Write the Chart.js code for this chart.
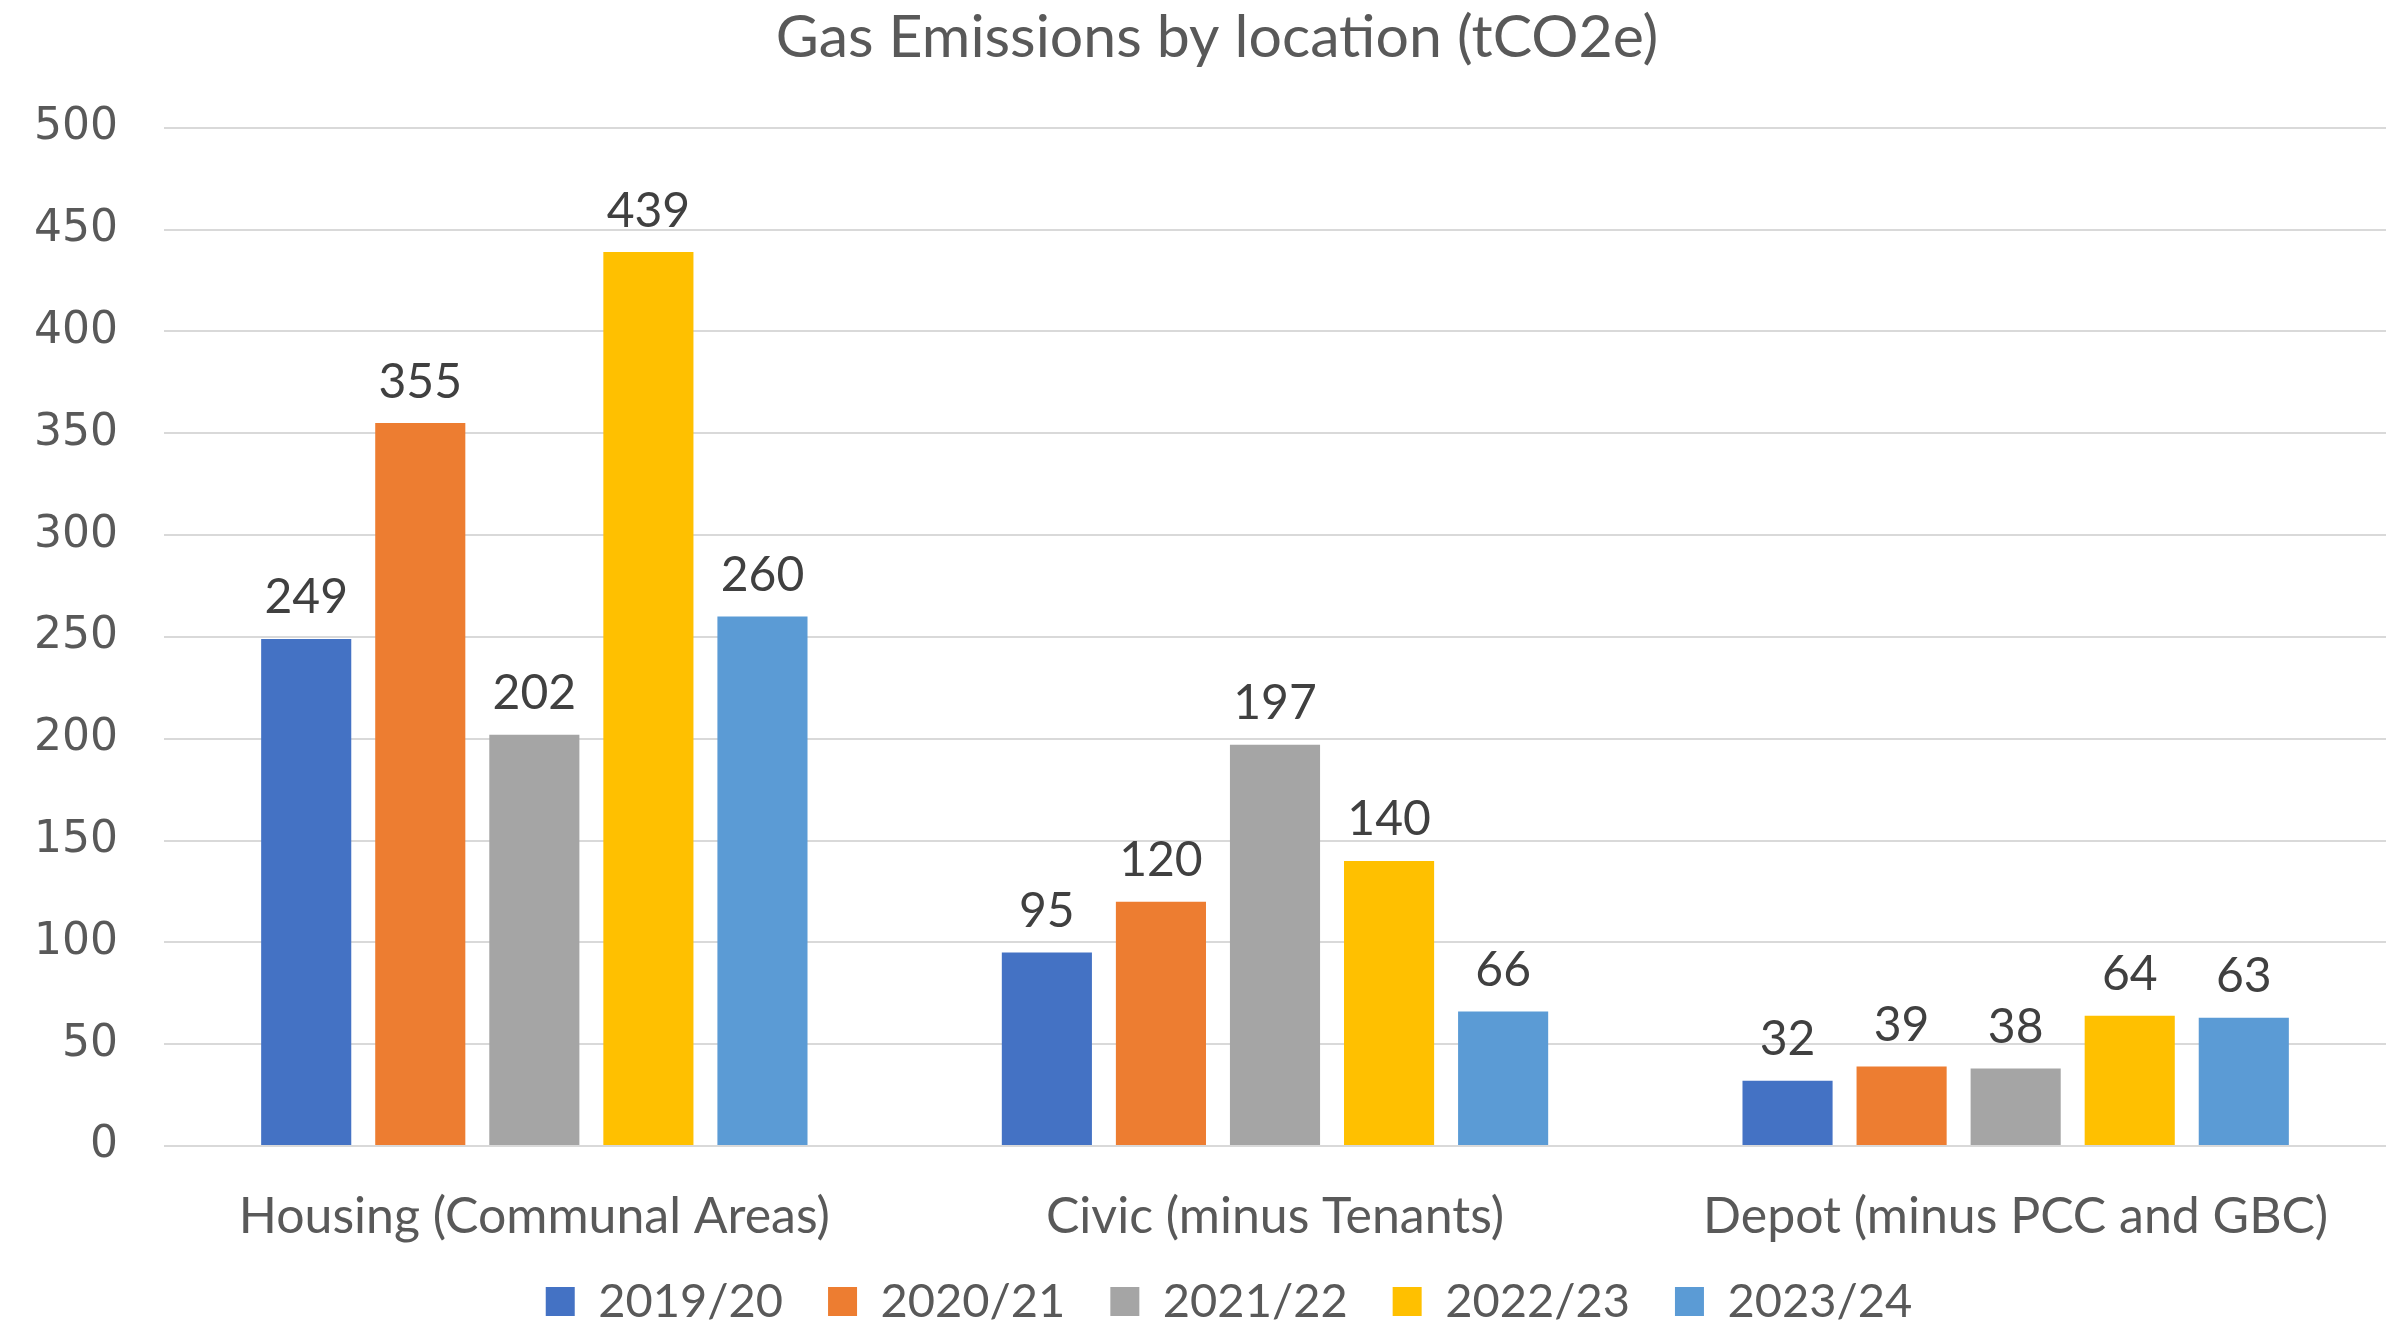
<!DOCTYPE html>
<html>
<head>
<meta charset="utf-8">
<script src="https://cdn.jsdelivr.net/npm/chart.js@4/dist/chart.umd.min.js"></script>
<style>
  html, body { margin: 0; padding: 0; background: #fff; }
  #wrap { width: 2386px; height: 1324px; }
</style>
</head>
<body>
<div id="wrap"><canvas id="chartGas"></canvas></div>
<script>
const locations = ['Housing (Communal Areas)', 'Civic (minus Tenants)', 'Depot (minus PCC and GBC)'];
const years = ['2019/20', '2020/21', '2021/22', '2022/23', '2023/24'];
const y2019 = [249, 95, 32];
const y2020 = [355, 120, 39];
const y2021 = [202, 197, 38];
const y2022 = [439, 140, 64];
const y2023 = [260, 66, 63];
const yTicks = [0, 50, 100, 150, 200, 250, 300, 350, 400, 450, 500];

const colours = ['#4472C4', '#ED7D31', '#A5A5A5', '#FFC000', '#5B9BD5'];
const series = [y2019, y2020, y2021, y2022, y2023];

// labels above bars, drawn from the bar elements
const barLabels = {
  id: 'barLabels',
  afterDatasetsDraw(chart) {
    const c = chart.ctx;
    c.save();
    c.font = '48px Lato';
    c.fillStyle = '#404040';
    c.textAlign = 'center';
    c.textBaseline = 'bottom';
    chart.data.datasets.forEach((ds, i) => {
      chart.getDatasetMeta(i).data.forEach((bar, j) => {
        c.fillText(ds.data[j], bar.x, bar.y - 17);
      });
    });
    c.restore();
  }
};

// nudge title and legend a bit right, like the original,
// and stop the x labels being clipped by the short axis box
const layoutTweaks = {
  id: 'layoutTweaks',
  afterLayout(chart) {
    chart.legend.left += 36;
    chart.legend.right += 36;
    chart.titleBlock.left += 24;
    chart.titleBlock.right += 24;
    chart.scales.x.bottom += 60;
  }
};

new Chart(document.getElementById('chartGas'), {
  type: 'bar',
  data: {
    labels: locations,
    datasets: series.map((d, i) => ({
      label: years[i],
      data: d,
      backgroundColor: colours[i],
      categoryPercentage: 0.77,
      barPercentage: 0.79
    }))
  },
  plugins: [barLabels, layoutTweaks],
  options: {
    responsive: true,
    maintainAspectRatio: false,
    animation: false,
    layout: { padding: { left: 0, right: 0, top: 0, bottom: -11 } },
    plugins: {
      title: {
        display: true,
        text: 'Gas Emissions by location (tCO2e)',
        color: '#595959',
        font: { family: 'Lato', size: 59, weight: 'normal' },
        padding: { top: 3, bottom: 54 }
      },
      legend: {
        position: 'bottom',
        labels: {
          color: '#595959',
          font: { family: 'Lato', size: 47 },
          boxWidth: 29,
          boxHeight: 29,
          padding: 45
        }
      },
      tooltip: { enabled: false }
    },
    scales: {
      y: {
        min: 0,
        max: 500,
        afterBuildTicks: (axis) => { axis.ticks = yTicks.map(v => ({ value: v })); },
        afterFit: (axis) => { axis.width = 164; },
        border: { display: false },
        grid: { color: '#D9D9D9', lineWidth: 2, drawTicks: false },
        ticks: {
          color: '#595959',
          font: { family: 'DejaVu Sans', size: 44 },
          padding: 46
        }
      },
      x: {
        afterFit: (axis) => { axis.height = 87; },
        border: { display: false },
        grid: { display: false },
        ticks: {
          color: '#595959',
          font: { family: 'Lato', size: 50 },
          padding: 33
        }
      }
    }
  }
});
</script>
</body>
</html>
